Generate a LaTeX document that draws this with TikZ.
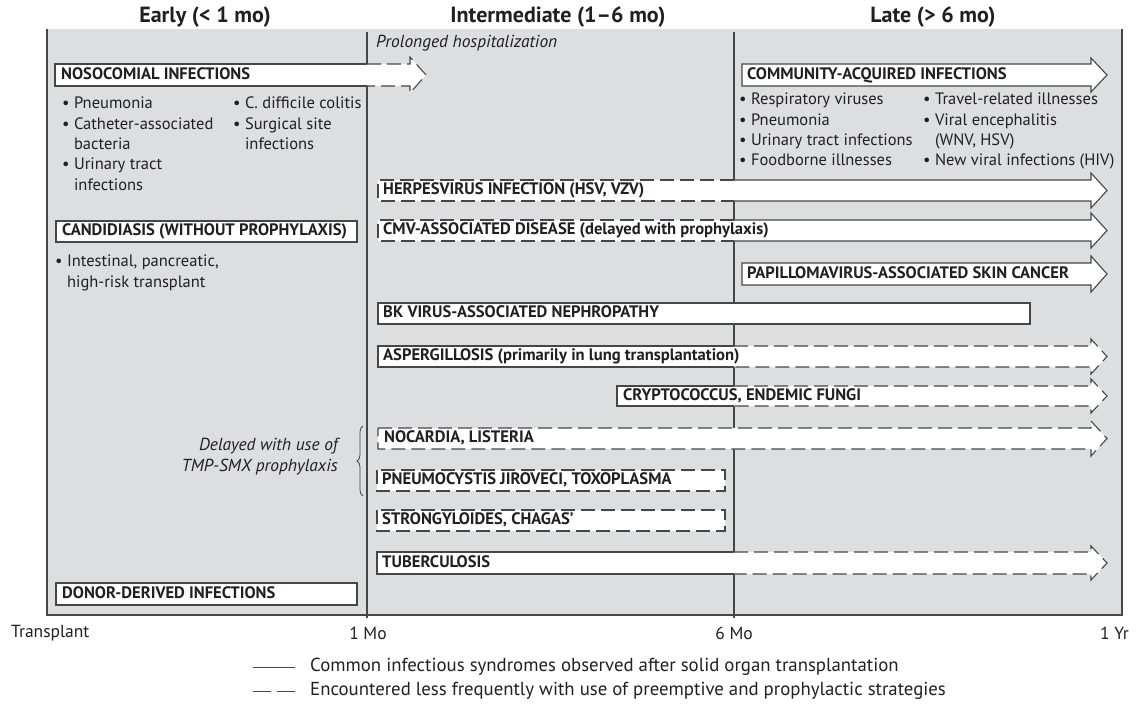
\documentclass[tikz,border=0pt]{standalone}
\usepackage{fontspec}
\setmainfont{PT Sans}
\usetikzlibrary{decorations.pathreplacing}
\definecolor{panel}{RGB}{221,222,224}
\definecolor{ink}{RGB}{35,31,32}
\definecolor{rule}{RGB}{70,70,70}
\tikzset{
  band/.style     = {fill=white},
  edge/.style     = {draw=rule, line width=1.1pt, line join=miter},
  dashline/.style = {edge, dash pattern=on 14pt off 6pt},
  boxlabel/.style = {anchor=west, inner sep=0pt, text=ink,
                     font=\bfseries\fontsize{16.6}{18}\selectfont,
                     text height=11.5pt, text depth=3.5pt},
  bullets/.style  = {anchor=north west, inner sep=0pt, align=left, text=ink,
                     font=\fontsize{16.5}{20.3}\selectfont},
  header/.style   = {text=ink, font=\bfseries\fontsize{22}{24}\selectfont},
  axislabel/.style= {text=ink, font=\fontsize{17.5}{20}\selectfont},
  legendtext/.style= {text=ink, font=\fontsize{18.8}{22}\selectfont},
  note/.style     = {text=ink, font=\itshape\fontsize{17.4}{21}\selectfont}
}

\begin{document}
\begin{tikzpicture}[x=1pt,y=-1pt]
  \useasboundingbox (0,0) rectangle (1147,704);
  % period panel
  \fill[panel] (47,29) rectangle (1122,615);
  \draw[rule, line width=1.1pt] (47,29) -- (47,615) -- (1122,615) -- (1122,29);
  \draw[rule, line width=1.1pt] (367,32) -- (367,618);
  \draw[rule, line width=1.1pt] (734,32) -- (734,618);

  \node[header] (hdrEarly) at (205,17) {Early (< 1 mo)};
  \node[header] (hdrMid)   at (558,17) {Intermediate (1–6 mo)};
  \node[header] (hdrLate)  at (933,17) {Late (> 6 mo)};
  \node[note, anchor=west, inner sep=0pt] (prolonged) at (376,43) {Prolonged hospitalization};

  % nosocomial
  \path[band] (55,64) -- (410,64) -- (410,57) -- (426,75) -- (410,93) -- (410,86) -- (55,86) -- cycle;
  \draw[edge] (367,64) -- (55,64) -- (55,86) -- (367,86);
  \draw[dashline] (367,64) -- (410,64) -- (410,57) -- (426,75) -- (410,93) -- (410,86) -- (367,86);
  \node[boxlabel] (lblNoso) at (61,75) {NOSOCOMIAL INFECTIONS};
  \node[bullets] (nosoA) at (62,97) {• Pneumonia\\• Catheter-associated\\\phantom{• }bacteria\\• Urinary tract\\\phantom{• }infections};
  \node[bullets] (nosoB) at (233,97) {• C. difficile colitis\\• Surgical site\\\phantom{• }infections};

  % community-acquired
  \path[band,edge] (742,64) -- (1091,64) -- (1091,58) -- (1107,75) -- (1091,92) -- (1091,86) -- (742,86) -- cycle;
  \node[boxlabel] (lblComm) at (747,75) {COMMUNITY-ACQUIRED INFECTIONS};
  \node[bullets] (commA) at (739,93) {• Respiratory viruses\\• Pneumonia\\• Urinary tract infections\\• Foodborne illnesses};
  \node[bullets] (commB) at (923,93) {• Travel-related illnesses\\• Viral encephalitis\\\phantom{• }(WNV, HSV)\\• New viral infections (HIV)};

  % candidiasis
  \path[band,edge] (56,221) rectangle (357,242);
  \node[boxlabel] (lblCand) at (62,231.5) {CANDIDIASIS (WITHOUT PROPHYLAXIS)};
  \node[bullets] (candA) at (55,255) {• Intestinal, pancreatic,\\\phantom{• }high-risk transplant};

  % herpesvirus
  \path[band] (378,180) -- (1091,180) -- (1091,173) -- (1107,190.5) -- (1091,208) -- (1091,201) -- (378,201) -- cycle;
  \draw[dashline] (734,180) -- (378,180) -- (378,201) -- (734,201);
  \draw[edge] (734,180) -- (1091,180) -- (1091,173) -- (1107,190.5) -- (1091,208) -- (1091,201) -- (734,201);
  \node[boxlabel] (lblHerp) at (383,190.5) {HERPESVIRUS INFECTION (HSV, VZV)};

  % cmv
  \path[band] (378,220) -- (1091,220) -- (1091,213) -- (1107,230.5) -- (1091,248) -- (1091,241) -- (378,241) -- cycle;
  \draw[dashline] (734,220) -- (378,220) -- (378,241) -- (734,241);
  \draw[edge] (734,220) -- (1091,220) -- (1091,213) -- (1107,230.5) -- (1091,248) -- (1091,241) -- (734,241);
  \node[boxlabel] (lblCmv) at (383,230.5) {CMV-ASSOCIATED DISEASE (delayed with prophylaxis)};

  % papillomavirus
  \path[band,edge] (742,263) -- (1091,263) -- (1091,256) -- (1107,274) -- (1091,292) -- (1091,285) -- (742,285) -- cycle;
  \node[boxlabel] (lblPap) at (747,274) {PAPILLOMAVIRUS-ASSOCIATED SKIN CANCER};

  % bk virus
  \path[band,edge] (378,303) rectangle (1030,324);
  \node[boxlabel] (lblBk) at (383,313.5) {BK VIRUS-ASSOCIATED NEPHROPATHY};

  % aspergillosis
  \path[band] (378,346) -- (1091,346) -- (1091,339) -- (1107,356.5) -- (1091,374) -- (1091,367) -- (378,367) -- cycle;
  \draw[edge] (734,346) -- (378,346) -- (378,367) -- (734,367);
  \draw[dashline] (734,346) -- (1091,346) -- (1091,339) -- (1107,356.5) -- (1091,374) -- (1091,367) -- (734,367);
  \node[boxlabel] (lblAsp) at (383,356.5) {ASPERGILLOSIS (primarily in lung transplantation)};

  % cryptococcus
  \path[band] (617,386) -- (1091,386) -- (1091,379) -- (1107,396) -- (1091,413) -- (1091,406) -- (617,406) -- cycle;
  \draw[edge] (734,386) -- (617,386) -- (617,406) -- (734,406);
  \draw[dashline] (734,386) -- (1091,386) -- (1091,379) -- (1107,396) -- (1091,413) -- (1091,406) -- (734,406);
  \node[boxlabel] (lblCrypt) at (623,396) {CRYPTOCOCCUS, ENDEMIC FUNGI};

  % nocardia
  \path[band,dashline] (378,428) -- (1091,428) -- (1091,421) -- (1107,438.5) -- (1091,456) -- (1091,449) -- (378,449) -- cycle;
  \node[boxlabel] (lblNoc) at (384,438.5) {NOCARDIA, LISTERIA};

  % pneumocystis
  \path[band,dashline] (377,470) rectangle (725,491);
  \node[boxlabel] (lblPcp) at (382,480.5) {PNEUMOCYSTIS JIROVECI, TOXOPLASMA};

  % strongyloides
  \path[band,dashline] (377,510) rectangle (725,531);
  \node[boxlabel] (lblStr) at (382,520.5) {STRONGYLOIDES, CHAGAS’};

  % tuberculosis
  \path[band] (377,552) -- (1091,552) -- (1091,546) -- (1107,563) -- (1091,580) -- (1091,574) -- (377,574) -- cycle;
  \draw[edge] (734,552) -- (377,552) -- (377,574) -- (734,574);
  \draw[dashline] (734,552) -- (1091,552) -- (1091,546) -- (1107,563) -- (1091,580) -- (1091,574) -- (734,574);
  \node[boxlabel] (lblTb) at (382,563) {TUBERCULOSIS};

  % donor-derived
  \path[band,edge] (56,583) rectangle (357,605);
  \node[boxlabel] (lblDonor) at (62,594) {DONOR-DERIVED INFECTIONS};

  % tmp-smx note
  \node[note, align=right, anchor=east, inner sep=0pt] (tmpNote) at (338,457) {Delayed with use of\\TMP-SMX prophylaxis};
  \draw[rule, line width=0.8pt, decorate, decoration={brace, amplitude=6pt}] (363,496) -- (363,426);

  % time axis
  \node[axislabel, anchor=west, inner sep=0pt] (tTx) at (11,633) {Transplant};
  \node[axislabel] (t1) at (368,633) {1 Mo};
  \node[axislabel] (t6) at (734,633) {6 Mo};
  \node[axislabel, anchor=east, inner sep=0pt] (t12) at (1129,633) {1 Yr};

  % legend
  \coordinate (solidA) at (253,667);
  \coordinate (solidB) at (295,667);
  \coordinate (dashA) at (253,691);
  \coordinate (dashB) at (295,691);
  \draw[rule, line width=0.9pt] (solidA) -- (solidB);
  \draw[rule, line width=0.9pt, dash pattern=on 18pt off 6pt] (dashA) -- (dashB);
  \node[legendtext, anchor=west, inner sep=0pt] (legSolid) at (310,667) {Common infectious syndromes observed after solid organ transplantation};
  \node[legendtext, anchor=west, inner sep=0pt] (legDash) at (310,691) {Encountered less frequently with use of preemptive and prophylactic strategies};
\end{tikzpicture}
\end{document}
